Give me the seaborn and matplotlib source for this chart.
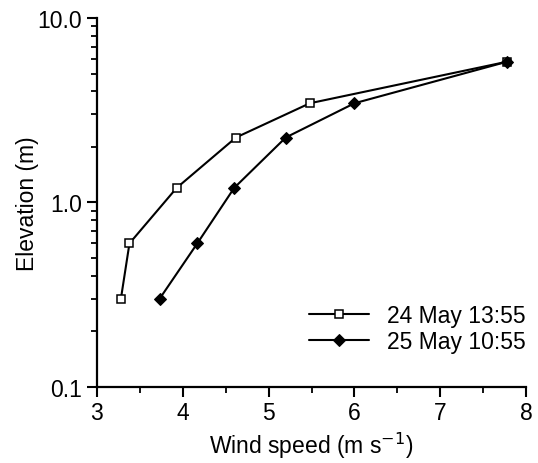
import pandas as pd
import seaborn as sns
import matplotlib.pyplot as plt
import numpy as np
from matplotlib.ticker import FixedLocator, LogLocator, NullFormatter, MultipleLocator

# Wind profile data
elev = [0.3, 0.6, 1.2, 2.25, 3.45, 5.8]
speed_may24 = [3.28, 3.38, 3.93, 4.62, 5.48, 7.78]
speed_may25 = [3.73, 4.17, 4.6, 5.2, 6.0, 7.78]
labels = ["24 May 13:55", "25 May 10:55"]

sns.set_style("ticks", {"text.color": "black", "axes.labelcolor": "black",
                        "xtick.color": "black", "ytick.color": "black",
                        "axes.edgecolor": "black"})
plt.rcParams['font.family'] = ['Liberation Sans', 'DejaVu Sans']

fig, ax = plt.subplots(figsize=(5.38, 4.64), dpi=100)
fig.subplots_adjust(left=0.180, right=0.978, top=0.959, bottom=0.164)

sns.lineplot(x=speed_may24, y=elev, ax=ax, color="black", lw=1.5, marker="s",
             markersize=6, markerfacecolor="white", markeredgecolor="black",
             markeredgewidth=1.1, label=labels[0], sort=False, estimator=None)
sns.lineplot(x=speed_may25, y=elev, ax=ax, color="black", lw=1.5, marker="D",
             markersize=6, markerfacecolor="black", markeredgecolor="black",
             label=labels[1], sort=False, estimator=None)

ax.set_yscale("log")
ax.set_xlim(3, 8)
ax.set_ylim(0.1, 10)
ax.yaxis.set_major_locator(FixedLocator([0.1, 1.0, 10.0]))
ax.set_yticklabels(["0.1", "1.0", "10.0"])
ax.yaxis.set_minor_locator(LogLocator(base=10, subs=np.arange(2, 10)))
ax.yaxis.set_minor_formatter(NullFormatter())
ax.xaxis.set_major_locator(MultipleLocator(1))
ax.xaxis.set_minor_locator(MultipleLocator(0.5))

ax.tick_params(which="major", length=7, width=1.5, labelsize=16.5, direction="out")
ax.tick_params(which="minor", length=4, width=1.3, direction="out")
for s in ["left", "bottom"]:
    ax.spines[s].set_linewidth(1.6)
sns.despine(ax=ax)

ax.set_xlabel("Wind speed (m s$^{-1}$)", fontsize=16.5)
ax.set_ylabel("Elevation (m)", fontsize=16.5, labelpad=-1)

ax.legend(loc="center right", bbox_to_anchor=(1.0, 0.158), frameon=False,
          fontsize=16.5, handlelength=2.6, handletextpad=0.8, labelspacing=0.15,
          borderpad=0, borderaxespad=0)

plt.savefig("out.png", dpi=100)
